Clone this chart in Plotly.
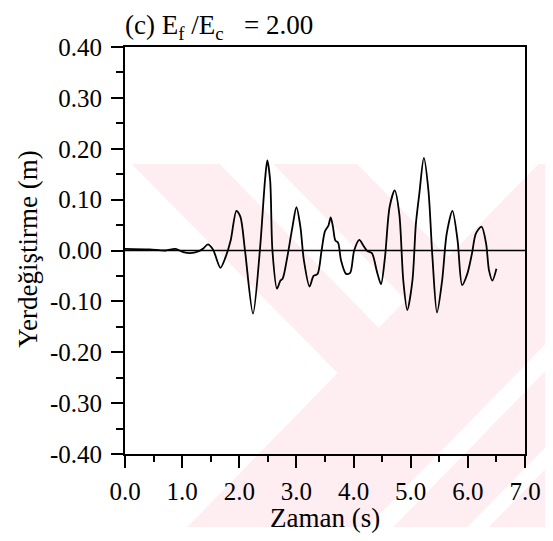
import plotly.graph_objects as go

# ---- data ----
time_s = [0.00, 0.43, 0.71, 0.88, 1.02, 1.14, 1.28, 1.37, 1.45, 1.54, 1.67, 1.76, 1.85,
          1.95, 2.02, 2.10, 2.24, 2.36, 2.45, 2.49, 2.54, 2.58, 2.66, 2.72, 2.76, 2.84,
          2.93, 3.00, 3.07, 3.13, 3.23, 3.30, 3.37, 3.44, 3.50, 3.56, 3.60, 3.64, 3.68,
          3.73, 3.78, 3.87, 3.94, 4.01, 4.10, 4.17, 4.24, 4.32, 4.41, 4.48, 4.55, 4.63,
          4.72, 4.80, 4.87, 4.94, 5.03, 5.09, 5.15, 5.23, 5.31, 5.38, 5.46, 5.55, 5.63,
          5.73, 5.82, 5.90, 5.99, 6.07, 6.14, 6.24, 6.32, 6.37, 6.43, 6.50]
disp_m = [0.003, 0.002, 0.000, 0.003, -0.003, -0.005, -0.002, 0.004, 0.012, 0.002, -0.034,
          -0.013, 0.020, 0.078, 0.066, 0.000, -0.124, 0.000, 0.138, 0.177, 0.138, 0.000,
          -0.075, -0.059, -0.055, -0.013, 0.046, 0.085, 0.046, -0.019, -0.071, -0.050,
          -0.046, 0.000, 0.038, 0.049, 0.065, 0.046, 0.020, 0.015, -0.019, -0.046, -0.044,
          0.000, 0.021, 0.010, -0.001, -0.005, -0.042, -0.066, -0.013, 0.085, 0.118, 0.072,
          -0.059, -0.117, -0.059, 0.052, 0.111, 0.182, 0.118, -0.013, -0.122, -0.059, 0.033,
          0.078, 0.020, -0.068, -0.046, -0.007, 0.033, 0.047, 0.013, -0.039, -0.059, -0.036]

x_ticks = [0, 1, 2, 3, 4, 5, 6, 7]
x_tick_labels = ["0.0", "1.0", "2.0", "3.0", "4.0", "5.0", "6.0", "7.0"]
y_ticks = [0.4, 0.3, 0.2, 0.1, 0.0, -0.1, -0.2, -0.3, -0.4]
y_tick_labels = ["0.40", "0.30", "0.20", "0.10", "0.00", "-0.10", "-0.20", "-0.30", "-0.40"]

title_text = "(c) E<sub>f</sub> /E<sub>c</sub>\u00a0\u00a0\u00a0= 2.00"
x_title = "Zaman (s)"
y_title = "Yerdeğiştirme (m)"

# ---- layout geometry, in page pixels (the page body adds an 8px margin) ----
OFF = 8
W, H = 553 - OFF, 541 - OFF
L, R, T, B = 125, 535, 47, 454
FONT = "Liberation Serif"


def px(xp):
    return (xp - L) / (R - L)


def py(yp):
    return (B - yp) / (B - T)


def poly(pts):
    return "M " + " L ".join(f"{px(a):.4f},{py(b):.4f}" for a, b in pts) + " Z"


PINK = "rgb(254,237,241)"
watermark = [
    ([(132, 164), (560, 164), (560, 527), (189, 527), (343, 373)], PINK),
    ([(222, 164), (277, 164), (413, 300), (385, 328)], "white"),
    ([(363, 164), (549, 164), (456, 257)], "white"),
    ([(373, 527), (400, 527), (560, 367), (560, 340)], "white"),
    ([(476, 527), (498, 527), (560, 465), (560, 443)], "white"),
]

fig = go.Figure()
fig.add_trace(go.Scatter(
    x=time_s, y=disp_m, mode="lines",
    line=dict(color="black", width=1.8, shape="spline", smoothing=0.8),
    showlegend=False, hoverinfo="skip"))

shapes = [dict(type="path", path=poly(p), xref="paper", yref="paper",
               fillcolor=c, line=dict(width=0), layer="below") for p, c in watermark]
# zero reference line
shapes.append(dict(type="line", xref="x", yref="y", x0=0, x1=7, y0=0, y1=0,
                   line=dict(color="black", width=1.3), layer="above"))

fig.update_layout(
    width=W, height=H,
    margin=dict(l=L - OFF, r=W - (R - OFF), t=T - OFF, b=H - (B - OFF), pad=0),
    paper_bgcolor="white", plot_bgcolor="rgba(0,0,0,0)",
    font=dict(family=FONT, color="black"),
    shapes=shapes,
    annotations=[
        dict(text=title_text, xref="paper", yref="paper", x=px(123), y=py(OFF),
             xanchor="left", yanchor="top", showarrow=False,
             font=dict(family=FONT, size=27, color="black")),
        dict(text=x_title, xref="paper", yref="paper", x=px(330), y=py(518),
             xanchor="center", yanchor="middle", showarrow=False,
             font=dict(family=FONT, size=27, color="black")),
        dict(text=y_title, xref="paper", yref="paper", x=px(OFF + 1), y=py(249),
             xanchor="left", yanchor="middle", showarrow=False, textangle=-90,
             borderpad=0, font=dict(family=FONT, size=27, color="black")),
    ],
)

fig.update_xaxes(
    range=[0, 7], tickvals=x_ticks, ticktext=x_tick_labels,
    ticks="outside", ticklen=12, tickwidth=1.5, tickcolor="black",
    minor=dict(dtick=0.5, ticks="outside", ticklen=6, tickwidth=1.5, tickcolor="black"),
    showline=True, linecolor="black", linewidth=1.8, mirror=True,
    showgrid=False, zeroline=False,
    tickfont=dict(family=FONT, size=25, color="black"), ticklabelstandoff=2)
fig.update_yaxes(
    range=[-0.4, 0.4], tickvals=y_ticks, ticktext=y_tick_labels,
    ticks="outside", ticklen=12, tickwidth=1.5, tickcolor="black",
    minor=dict(dtick=0.05, ticks="outside", ticklen=7, tickwidth=1.5, tickcolor="black"),
    showline=True, linecolor="black", linewidth=1.8, mirror=True,
    showgrid=False, zeroline=False,
    tickfont=dict(family=FONT, size=25, color="black"), ticklabelstandoff=4)

fig.write_html("out.html")
